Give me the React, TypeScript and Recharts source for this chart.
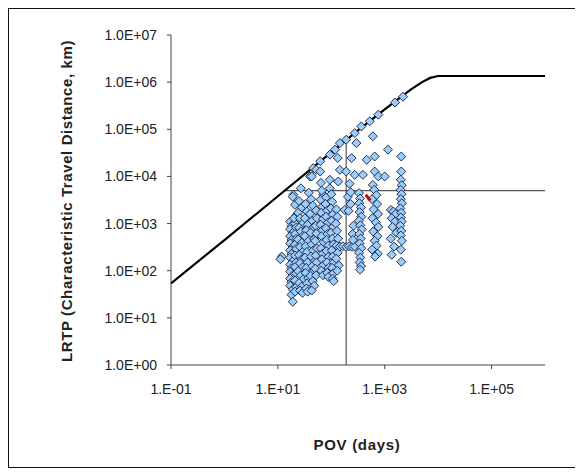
import React from "react";
import {
  ScatterChart,
  Scatter,
  XAxis,
  YAxis,
  ReferenceLine,
  Label,
} from "recharts";

// POV (days), LRTP (km) pairs
const leftColumn: [number, number][] = [
  [11.8, 200], [11.2, 175],
  [17, 1100], [18, 900], [17, 760], [19, 640], [17, 540], [18, 450], [17, 380], [19, 320],
  [17, 270], [18, 225], [17, 190], [19, 160], [17, 135], [18, 112], [17, 95], [19, 80],
  [17, 68], [18, 57], [17, 48], [19, 40], [18, 31], [19, 22],
  [21, 1000], [22, 820], [21, 600], [22, 470], [21, 360], [22, 290], [21, 210], [22, 150],
  [21, 120], [22, 88], [21, 62], [22, 45], [21, 36],
  [19.5, 4100], [21, 2500], [19, 3700], [22, 1500], [20, 1300],
];

const midColumn: [number, number][] = [
  [27, 5600], [25, 3000], [28, 2200], [24, 1700], [26, 1300], [29, 1000], [25, 820], [27, 680],
  [30, 560], [24, 460], [28, 390], [26, 320], [30, 260], [25, 215], [28, 175], [26, 145],
  [29, 118], [24, 98], [27, 80], [30, 66], [25, 55], [28, 46], [26, 38], [29, 34],
  [33, 2600], [35, 1800], [32, 1300], [36, 950], [34, 720], [32, 540], [37, 420], [33, 330],
  [35, 250], [32, 190], [36, 150], [34, 115], [33, 90], [37, 70], [35, 54], [34, 42], [36, 36],
  [40, 10000], [43, 10000], [46, 15000], [52, 13800], [38, 4500], [42, 3300], [45, 2400],
  [40, 1600], [44, 1150], [47, 850], [41, 640], [48, 470], [43, 360], [46, 270], [42, 200],
  [49, 160], [44, 125], [47, 100], [41, 78], [45, 60], [48, 48], [43, 38],
  [52, 1900], [54, 1300], [51, 900], [53, 620], [50, 430], [54, 300], [51, 210], [53, 150],
  [50, 110], [52, 80],
];

const rightColumn: [number, number][] = [
  [62, 21000], [62, 12700], [64, 7300], [71, 4100], [94, 5600], [94, 8500], [94, 29000],
  [118, 37000], [132, 24600], [135, 7800], [145, 13800], [145, 51000],
  [66, 5000], [63, 3200], [68, 2300], [65, 1700], [70, 1250], [63, 950], [68, 720], [66, 540],
  [72, 400], [64, 300], [69, 230], [67, 175], [71, 130], [65, 100], [70, 80],
  [80, 3600], [78, 2600], [84, 1900], [80, 1400], [86, 1050], [79, 800], [85, 600], [82, 450],
  [88, 340], [81, 260], [87, 195], [83, 150], [89, 115], [84, 90], [88, 74],
  [100, 4200], [104, 2900], [98, 2100], [106, 1550], [101, 1150], [108, 850], [99, 640],
  [105, 480], [110, 360], [102, 270], [107, 200], [112, 150], [104, 115], [109, 88], [106, 68],
  [111, 60],
  [125, 2000], [130, 1400], [122, 1000], [128, 700], [134, 480], [126, 340], [132, 240],
  [124, 180], [138, 130], [129, 100],
  [145, 325], [165, 330], [190, 320], [215, 330], [245, 320], [275, 325],
];

const nearCutoff: [number, number][] = [
  [178, 1950], [205, 3700], [190, 12700], [190, 60000], [240, 24500], [275, 10800],
  [275, 83000], [295, 51000], [220, 7000], [230, 2600], [210, 1860], [250, 600], [260, 900],
  [255, 450], [230, 4600],
];

const columnE: [number, number][] = [
  [330, 4450], [345, 3400], [335, 2700], [360, 2200], [340, 1750], [365, 1400], [330, 1150],
  [350, 920], [370, 750], [335, 600], [355, 480], [340, 380], [365, 300], [330, 240],
  [350, 190], [340, 150], [360, 125], [345, 105],
];

const columnF: [number, number][] = [
  [600, 6600], [640, 5200], [700, 4000], [580, 3300], [720, 2600], [620, 2000], [750, 1600],
  [590, 1300], [690, 1050], [760, 850], [610, 680], [730, 540], [650, 430], [700, 340],
  [580, 280], [740, 230], [660, 200],
  [460, 22500], [650, 26500], [390, 10800], [650, 12700], [760, 10000], [1000, 10000],
  [600, 71000], [365, 115000], [525, 148000], [760, 204000], [1560, 370000], [2200, 490000],
  [1150, 37000],
];

const columnG: [number, number][] = [
  [1300, 1950], [1450, 1800], [1600, 1600], [1350, 1300], [1550, 1100], [1400, 850],
  [1650, 640], [1300, 480], [1500, 325], [1350, 218],
];

const columnH: [number, number][] = [
  [2040, 26500], [2040, 12700], [2000, 8500], [2080, 6500], [1980, 5200], [2060, 4200],
  [2000, 3300], [2100, 2700], [1960, 2100], [2050, 1700], [2000, 1350], [2080, 1100],
  [1950, 900], [2040, 700], [2000, 560], [2100, 430], [2000, 280], [2040, 155],
];

const highlighted: [number, number][] = [
  [440, 4100], [540, 3100],
];

// limit curve
const curvePov = [0.1, 1, 10, 100, 316, 1000, 2000, 3160, 5000, 7080, 10000, 1000000];
const curveLrtp = [54, 447, 3800, 32400, 95000, 263000, 480000, 710000, 1000000, 1230000, 1350000, 1350000];

const cutoffPov = 190;
const cutoffLrtp = 5000;

const xTicks = [0.1, 10, 1000, 100000];
const yTicks = [1, 10, 100, 1000, 10000, 100000, 1000000, 10000000];

const toPoints = (rows: [number, number][]) => rows.map(([x, y]) => ({ x, y }));
const scatterData = toPoints([
  ...leftColumn, ...midColumn, ...rightColumn, ...nearCutoff,
  ...columnE, ...columnF, ...columnG, ...columnH,
]);
const curveData = curvePov.map((x, i) => ({ x, y: curveLrtp[i] }));
const redData = toPoints(highlighted);

const font = "'Liberation Sans', Arial, sans-serif";

const exp = (v: number) => {
  const e = Math.round(Math.log10(v));
  return (e < 0 ? "-" : "+") + String(Math.abs(e)).padStart(2, "0");
};

const Diamond = (props: any) => {
  const { cx, cy } = props;
  const r = 4.5;
  return (
    <polygon
      points={`${cx},${cy - r} ${cx + r},${cy} ${cx},${cy + r} ${cx - r},${cy}`}
      fill="#99ccff"
      stroke="#1c1c30"
      strokeWidth={0.9}
    />
  );
};

const Nothing = () => <g />;

const XTitle = () => (
  <text x={348} y={435} textAnchor="middle" dominantBaseline="central"
    fontFamily={font} fontWeight="bold" fontSize={15} letterSpacing={0.7} fill="#222">
    POV (days)
  </text>
);

const YTitle = () => (
  <text x={57} y={192} transform="rotate(-90 57 192)" textAnchor="middle" dominantBaseline="central"
    fontFamily={font} fontWeight="bold" fontSize={15} letterSpacing={0.6} fill="#222">
    LRTP (Characteristic Travel Distance, km)
  </text>
);

export default function App() {
  return (
    <div style={{ width: 568, height: 458, border: "1px solid #111" }}>
      <ScatterChart
        width={568}
        height={458}
        margin={{ top: 26, right: 32, bottom: 72, left: 0 }}
      >
        <XAxis
          type="number"
          dataKey="x"
          scale="log"
          domain={[0.1, 1000000]}
          ticks={xTicks}
          allowDataOverflow
          height={30}
          tickSize={4}
          tickMargin={15}
          tickFormatter={(v: number) => "1.E" + exp(v)}
          tick={{ fontSize: 14, fill: "#222", fontFamily: font }}
          axisLine={{ stroke: "#444" }}
          tickLine={{ stroke: "#444" }}
        >
          <Label content={XTitle} />
        </XAxis>
        <YAxis
          type="number"
          dataKey="y"
          scale="log"
          domain={[1, 10000000]}
          ticks={yTicks}
          allowDataOverflow
          width={162}
          tickSize={4}
          tickMargin={10}
          tickFormatter={(v: number) => "1.0E" + exp(v)}
          tick={{ fontSize: 14, fill: "#222", fontFamily: font }}
          axisLine={{ stroke: "#444" }}
          tickLine={{ stroke: "#444" }}
        >
          <Label content={YTitle} />
        </YAxis>
        <ReferenceLine
          segment={[{ x: cutoffPov, y: 1 }, { x: cutoffPov, y: 60000 }]}
          stroke="#555"
          strokeWidth={1.2}
        />
        <ReferenceLine
          segment={[{ x: 12.5, y: cutoffLrtp }, { x: 1000000, y: cutoffLrtp }]}
          stroke="#555"
          strokeWidth={1.2}
        />
        <Scatter
          data={curveData}
          line={{ stroke: "#000", strokeWidth: 2.2 }}
          shape={Nothing}
          isAnimationActive={false}
        />
        <Scatter data={scatterData} shape={Diamond} isAnimationActive={false} />
        <Scatter
          data={redData}
          line={{ stroke: "#cc0000", strokeWidth: 3 }}
          shape={Nothing}
          isAnimationActive={false}
        />
      </ScatterChart>
    </div>
  );
}
